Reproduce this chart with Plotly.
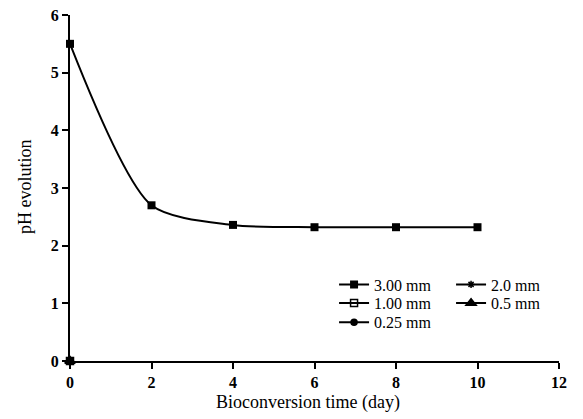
import plotly.graph_objects as go

days = [0, 2, 4, 6, 8, 10]
ph_300 = [5.5, 2.7, 2.36, 2.32, 2.32, 2.32]
other_names = ["2.0 mm", "1.00 mm", "0.5 mm", "0.25 mm"]
other_x = [0]
other_y = [0]
x_ticks = [0, 2, 4, 6, 8, 10, 12]
y_ticks = [0, 1, 2, 3, 4, 5, 6]

fig = go.Figure()
symbols = {"2.0 mm": "asterisk", "1.00 mm": "square-open", "0.5 mm": "triangle-up", "0.25 mm": "circle"}
legends = {"2.0 mm": "legend", "1.00 mm": "legend2", "0.5 mm": "legend2", "0.25 mm": "legend3"}
ranks = {"2.0 mm": 2, "1.00 mm": 1, "0.5 mm": 2, "0.25 mm": 1}
sizes = {"2.0 mm": 6, "1.00 mm": 7, "0.5 mm": 9, "0.25 mm": 6}
for n in other_names:
    fig.add_trace(go.Scatter(
        x=other_x, y=other_y, name=n, mode="lines+markers",
        line=dict(color="black", width=2),
        marker=dict(symbol=symbols[n], size=sizes[n], color="black",
                    line=dict(color="black", width=1.5)),
        legend=legends[n], legendrank=ranks[n], cliponaxis=False))

fig.add_trace(go.Scatter(
    x=days, y=ph_300, name="3.00 mm", mode="lines+markers",
    line=dict(color="black", width=2, shape="spline", smoothing=0.75),
    marker=dict(symbol="square", size=8, color="black"),
    legend="legend", legendrank=1, cliponaxis=False))
fig.add_trace(go.Scatter(x=other_x, y=other_y, mode="markers", showlegend=False,
                         marker=dict(symbol="square", size=8, color="black"), cliponaxis=False))

serif = "Liberation Serif"
font_leg = dict(family=serif, size=16, color="black")
legcommon = dict(orientation="h", xanchor="left", yanchor="middle", bgcolor="rgba(0,0,0,0)",
                 font=font_leg, entrywidth=72, itemwidth=30, tracegroupgap=0)
axcommon = dict(showgrid=False, zeroline=False, automargin=False,
                showline=True, linecolor="black", linewidth=2,
                ticks="outside", ticklen=6, tickwidth=2, tickcolor="black",
                tickfont=dict(family=serif, size=16, color="black", weight="bold"))
fig.update_layout(
    width=583, height=419,
    margin=dict(l=70, r=24, t=15, b=58),
    plot_bgcolor="white", paper_bgcolor="white",
    showlegend=True,
    legend=dict(x=0.54, y=0.221, **legcommon),
    legend2=dict(x=0.54, y=0.167, **legcommon),
    legend3=dict(x=0.54, y=0.112, **legcommon),
    xaxis=dict(range=[0, 12], tickvals=x_ticks, **axcommon),
    yaxis=dict(range=[0, 6], tickvals=y_ticks, **axcommon),
    annotations=[
        dict(text="Bioconversion time (day)", xref="paper", yref="paper",
             x=0.487, y=-0.1185, xanchor="center", yanchor="middle", showarrow=False,
             font=dict(family=serif, size=18, color="black")),
        dict(text="pH evolution", xref="paper", yref="paper", textangle=-90,
             x=-0.092, y=0.503, xanchor="center", yanchor="middle", showarrow=False,
             font=dict(family=serif, size=18, color="black")),
    ],
)
fig.write_html("out.html", config={"displayModeBar": False},
               post_script="document.body.style.margin='0';")
